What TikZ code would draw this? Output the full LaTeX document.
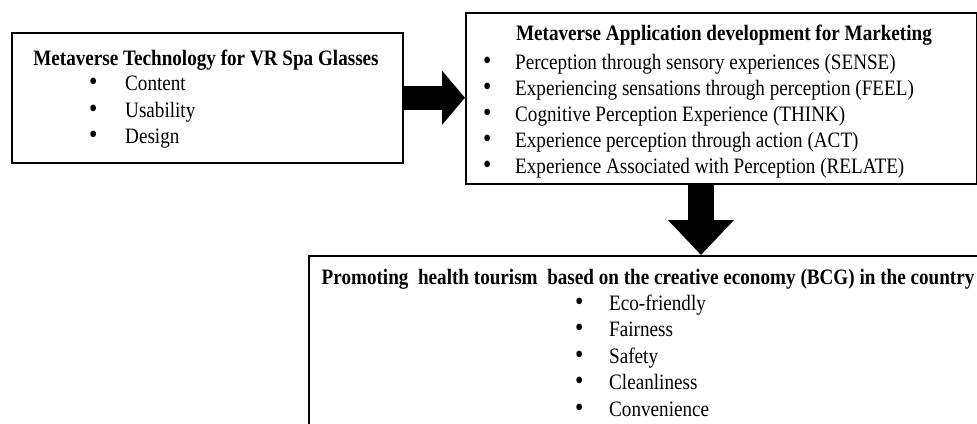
\documentclass[tikz,border=0pt]{standalone}
\usepackage{fontspec}
\setmainfont{Liberation Serif}[FakeStretch=0.87]
\usetikzlibrary{positioning, arrows.meta}

\begin{document}
\begin{tikzpicture}[x=1pt,y=1pt,
  box/.style={draw, line width=1.5pt, anchor=north west, inner sep=0pt},
  head/.style={font=\fontsize{22}{26}\selectfont\bfseries, anchor=base, inner sep=0pt},
  item/.style={font=\fontsize{22}{26}\selectfont, anchor=base west, inner sep=0pt},
  fatright/.style={line width=24pt, -{Triangle[length=23pt,width=53pt]}},
  fatdown/.style={line width=26pt, -{Triangle[length=35pt,width=64pt]}}]
\newcommand{\blt}[1]{\makebox[#1][l]{\scalebox{1.25}{\textbullet}}}
\useasboundingbox (0,0) rectangle (977,-423);
\clip (0,0) rectangle (977,-423);
% boxes
\node[box, minimum width=391pt, minimum height=130pt] (techbox) at (11,-32) {};
\node[box, minimum width=511pt, minimum height=171pt] (appbox) at (465,-12) {};
\node[box, minimum width=720pt, minimum height=220pt] (bcgbox) at (308,-255) {};
\coordinate (bcgtop) at (701,-255);
% titles
\node[head] (techhead) at (206,-65) {Metaverse Technology for VR Spa Glasses};
\node[head] (apphead) at (724,-40) {Metaverse Application development for Marketing};
\node[head] (bcghead) at (648,-284) {Promoting\ \ health tourism\ \ based on the creative economy (BCG) in the country};
% items
\foreach \t [count=\i] in {Content, Usability, Design}
  \node[item] (tech\i) at (89,-64-26.5*\i) {\blt{36pt}\t};
\foreach \t [count=\i] in {Perception through sensory experiences (SENSE),
    Experiencing sensations through perception (FEEL),
    Cognitive Perception Experience (THINK),
    Experience perception through action (ACT),
    Experience Associated with Perception (RELATE)}
  \node[item] (app\i) at (483,-43-26*\i) {\blt{32pt}\t};
\foreach \t [count=\i] in {Eco-friendly, Fairness, Safety, Cleanliness, Convenience}
  \node[item] (bcg\i) at (575,-283.5-26.5*\i) {\blt{34pt}\t};
% arrows
\draw[fatright] (techbox.east) -- (techbox.east -| appbox.west);
\draw[fatdown] (appbox.south -| bcgtop) -- (bcgtop);
\end{tikzpicture}
\end{document}
